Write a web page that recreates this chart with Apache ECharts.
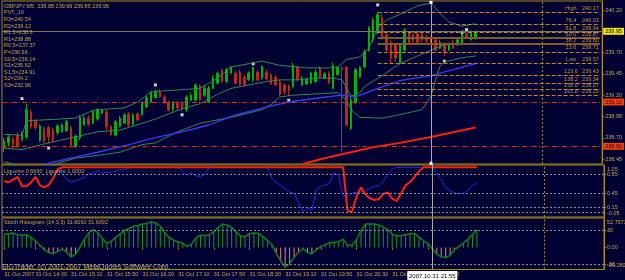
<!DOCTYPE html>
<html>
<head>
<meta charset="utf-8">
<style>
html,body{margin:0;padding:0;background:#000032;}
#chart{width:625px;height:280px;}
</style>
<script src="https://cdn.jsdelivr.net/npm/echarts@6/dist/echarts.min.js"></script>
</head>
<body>
<div id="chart"></div>
<script>
// GBPJPY M5, 31 Oct 2007, first bar 13:55
var opens = [238.58,238.64,238.69,238.73,238.67,238.71,239.00,238.90,238.67,238.80,
  238.82,238.79,238.76,238.77,238.78,238.82,238.60,238.70,238.85,238.93,
  238.87,238.92,238.99,239.00,238.83,238.73,238.83,238.87,238.98,238.86,
  238.98,238.97,239.06,239.12,239.17,239.24,239.18,239.12,239.03,239.11,
  239.11,239.03,239.14,239.14,239.31,239.20,239.12,239.28,239.34,239.50,
  239.36,239.46,239.46,239.47,239.41,239.38,239.38,239.47,239.40,239.47,
  239.44,239.41,239.36,239.32,239.31,239.30,239.53,239.32,239.33,239.34,
  239.36,239.52,239.40,239.46,239.28,239.44,239.52,239.53,238.81,239.11,
  239.41,239.53,239.73,239.85,239.93,240.11,239.91,239.82,239.79,239.58,
  239.73,239.93,239.91,239.92,239.92,239.88,239.87,239.85,239.75,239.80,
  239.73,239.82,239.79,239.81,239.92,239.85,239.88];
var closes = [238.66,238.71,238.62,238.60,238.76,239.03,238.83,238.82,238.84,238.66,
  238.71,238.67,238.84,238.85,238.89,238.60,238.72,238.94,238.93,238.86,
  239.00,239.03,239.03,238.83,238.74,238.89,238.93,238.97,238.85,238.97,
  238.91,239.11,239.17,239.23,239.24,239.18,239.11,239.03,239.11,239.05,
  239.05,239.18,239.20,239.32,239.14,239.28,239.28,239.40,239.46,239.36,
  239.50,239.53,239.34,239.32,239.32,239.46,239.52,239.38,239.54,239.39,
  239.33,239.32,239.21,239.24,239.25,239.55,239.38,239.40,239.39,239.46,
  239.47,239.41,239.45,239.34,239.55,239.53,239.50,238.85,239.14,239.50,
  239.53,239.71,239.99,240.08,240.15,239.87,239.73,239.64,239.64,239.79,
  239.96,239.82,239.84,239.82,239.85,239.84,239.82,239.73,239.82,239.71,
  239.80,239.75,239.85,239.92,239.87,239.94,239.95];
var lows = [238.53,238.60,238.58,238.58,238.66,238.69,238.80,238.79,238.65,238.64,
  238.63,238.64,238.73,238.76,238.77,238.58,238.58,238.67,238.84,238.84,
  238.86,238.90,238.98,238.79,238.72,238.72,238.82,238.86,238.83,238.84,
  238.89,238.96,239.05,239.11,239.16,239.17,239.10,239.01,239.01,239.03,
  239.01,239.00,239.13,239.13,239.13,239.18,239.11,239.27,239.33,239.34,
  239.34,239.45,239.33,239.31,239.31,239.37,239.36,239.36,239.38,239.38,
  239.32,239.31,239.19,239.21,239.19,239.28,239.36,239.31,239.32,239.33,
  239.34,239.40,239.39,239.33,239.27,239.43,238.53,238.83,238.79,239.09,
  239.40,239.52,239.71,239.82,239.91,239.85,239.71,239.57,239.59,239.57,
  239.71,239.80,239.81,239.80,239.82,239.81,239.80,239.71,239.74,239.66,
  239.72,239.74,239.78,239.80,239.86,239.84,239.85];
var highs = [238.70,238.73,238.71,238.77,238.78,239.10,239.03,238.92,238.86,238.83,
  238.84,238.82,238.86,238.87,238.91,238.84,238.74,238.97,238.96,238.96,
  239.03,239.05,239.04,239.03,238.85,238.91,238.96,238.99,239.00,238.99,
  239.00,239.13,239.19,239.25,239.27,239.27,239.20,239.14,239.13,239.14,
  239.13,239.20,239.23,239.34,239.33,239.31,239.31,239.43,239.48,239.51,
  239.52,239.54,239.48,239.50,239.44,239.48,239.54,239.50,239.55,239.50,
  239.46,239.44,239.38,239.34,239.33,239.58,239.55,239.43,239.41,239.48,
  239.50,239.54,239.47,239.48,239.58,239.54,239.54,239.54,239.18,239.52,
  239.54,239.73,240.01,240.11,240.17,240.16,239.93,239.85,239.81,239.81,
  239.99,239.95,239.93,239.94,239.94,239.91,239.89,239.87,239.85,239.82,
  239.82,239.85,239.86,239.94,239.93,239.96,239.96];

// bollinger bands and moving averages, [bar index, price]
var bbUpper = [[0,238.74],[4,238.73],[5,238.90],[9,238.91],[16,238.93],[19,239.00],[21,239.03],[27,239.05],[30,239.12],[33,239.24],[36,239.25],[44,239.28],[48,239.40],[51,239.53],[56,239.58],[58,239.60],[62,239.55],[68,239.52],[73,239.52],[75,239.53],[77,239.62],[80,239.65],[82,239.75],[83,239.87],[84,239.99],[86,240.08],[89,240.15],[93,240.25],[96,240.28],[98,240.16],[100,240.06],[103,240.01],[106,240.04]];
var bbMiddle = [[0,238.58],[4,238.56],[7,238.60],[10,238.64],[16,238.71],[21,238.77],[26,238.79],[31,238.87],[34,238.92],[37,238.98],[40,239.04],[44,239.10],[48,239.21],[51,239.28],[55,239.32],[59,239.36],[62,239.38],[66,239.38],[70,239.40],[74,239.40],[76,239.38],[78,239.19],[80,239.23],[81,239.30],[85,239.43],[89,239.57],[96,239.73],[99,239.79],[106,239.81]];
var bbLower = [[0,238.42],[5,238.35],[10,238.37],[16,238.46],[22,238.50],[26,238.53],[31,238.62],[34,238.64],[39,238.77],[44,238.87],[51,238.94],[58,239.03],[60,239.09],[62,239.18],[65,239.20],[75,239.23],[77,239.14],[78,239.03],[80,238.94],[85,238.93],[88,238.96],[94,239.03],[95,239.11],[96,239.19],[97,239.38],[98,239.54],[99,239.59],[103,239.64],[106,239.66]];
var maBlue = [[9,238.39],[15,238.46],[21,238.53],[29,238.63],[33,238.69],[40,238.77],[46,238.85],[52,238.97],[59,239.06],[64,239.12],[71,239.17],[76,239.20],[79,239.18],[84,239.28],[89,239.37],[96,239.43],[106,239.57]];
var maRed = [[67,238.39],[72,238.46],[78,238.53],[83,238.59],[89,238.64],[96,238.71],[106,238.82]];
var fractals = [[4,239.16],[10,238.58],[34,239.32],[40,238.97],[56,239.57],[64,239.14],[84,240.26],[99,239.60],[103,239.94],[104,239.97]];

// fibonacci levels
var fibNames = ['High','76.4','61.8','50.0','38.2','23.6','Low','123.6','138.2','150.0','161.8'];
var fibPrices = [240.17,240.03,239.94,239.87,239.80,239.71,239.57,239.43,239.34,239.27,239.20];
var fibStart = 84;

var bidPrice = 239.95;
var redLevels = [239.12, 238.60];
var priceTicks = [240.20, 239.70, 239.45, 239.20, 238.95, 238.70, 238.45];

// laguerre
var lagBlue = [null,null,null,null,null,null,null,null,null,null,
  null,null,1,0.86,0.74,0.69,0.71,0.75,0.79,0.86,
  0.88,0.93,0.88,0.90,0.89,0.92,0.95,0.94,1,1,
  1,1,1,1,1,1,1,1,1,1,
  0.90,0.84,0.89,0.82,0.80,0.86,1,1,1,1,
  1,1,1,1,1,1,1,1,1,1,
  0.77,0.68,0.62,0.55,0.47,0.46,0.25,0.07,0.14,0.10,
  0.53,0.60,0.63,0.67,0.90,0.80,0.40,0.38,0.46,0.47,
  0.48,0.50,0.55,0.60,0.61,0.70,0.85,0.97,1,1,
  1,1,1,1,1,1,1,0.86,0.74,0.57,
  0.50,0.46,0.44,0.45,0.52,0.62,0.669];
var lagRed = [0.71,0.68,0.74,0.80,0.60,0.60,0.68,0.80,0.62,0.58,
  0.63,0.78,0.96,1,1,1,1,1,1,1,
  1,1,1,1,1,1,1,1,1,1,
  1,1,1,1,1,1,1,1,1,1,
  1,1,1,1,1,1,1,1,1,1,
  1,1,1,1,1,1,1,1,1,1,
  1,1,1,1,1,1,1,1,1,1,
  1,1,1,1,1,1,1,0.08,0.06,0.38,
  0.58,0.42,0.35,0.31,0.33,0.44,0.47,0.34,0.29,0.45,
  0.62,0.69,0.80,0.91,1,1,1,1,1,1,
  1,1,1,1,1,1,1];
var lagMin = -0.05, lagMax = 1.05;
var lagTicks = [0.85, 0.45, 0.15, 0.05];
var lagLevels = [0.85, 0.45, 0.15, 0.05];

// stoch histogram
var stoch = [24,24,26,23,22,23,18,12,4,-4,
  -9,-11,-7,-3,-8,-17,-12,1,15,27,
  32,27,16,7,11,18,24,31,34,38,
  39,42,43,46,44,38,27,18,13,10,
  8,2,6,17,22,21,23,28,36,42,
  40,36,28,21,19,25,26,25,20,13,
  5,-10,-24,-35,-29,-18,-8,-2,-9,-11,
  -4,2,5,9,9,11,15,4,4,14,
  30,42,42,42,40,37,32,24,21,21,
  23,25,25,19,12,7,-2,-12,-17,-18,
  -14,-4,2,8,15,23,31.6];
var stochMin = -39.2803, stochMax = 52.7573;
var stochTicks = [30, 0, -30];
var stochTickText = ['30', '0.00', '-30'];
var stochLevels = [30, -30];

var pivotLines = ['GBPJPY,M5  239.88 239.96 239.85 239.95', 'PVT_10', 'R3=240.54', 'R2=239.12', 'R1.5=238.6',
  'R1=238.88', 'R0.5=237.37', 'P=236.66', 'S0.5=236.14', 'S1=235.62', 'S1.5=234.91', 'S2=234.2', 'S3=232.96'];

var crossIdx = 96;
var sepIdx = 121;
var crossTime = '2007.10.31 21:55';

// 5 minute slots from 13:55
function pad(n) { return n < 10 ? '0' + n : '' + n; }
var times = [];
for (var k = 0; k < 135; k++) {
  var m = 13 * 60 + 55 + k * 5;
  times.push('31 Oct ' + pad(Math.floor(m / 60) % 24) + ':' + pad(m % 60));
}

var GOLD = '#a88c14';
var TXT = '#c8aa50';
var FONT = 'Liberation Sans';
var FS = 5.5;

var candles = opens.map(function (o, i) { return [o, closes[i], lows[i], highs[i]]; });

var vLines = [
  {xAxis: times[crossIdx], lineStyle: {color: '#a8a8a8', type: 'solid', width: 1}},
  {xAxis: times[sepIdx], lineStyle: {color: '#a08830', type: [2, 2], width: 1}}
];

var mainMarks = vLines.slice();
mainMarks.push({yAxis: bidPrice, lineStyle: {color: '#7c785a', type: 'solid', width: 1},
  label: {show: true, position: 'end', distance: 1, formatter: bidPrice.toFixed(2), backgroundColor: '#f0e418',
    color: '#000', padding: [1, 2, 0, 2], fontSize: FS, fontFamily: FONT}});
redLevels.forEach(function (p) {
  mainMarks.push({yAxis: p, lineStyle: {color: '#c83c00', type: [5, 2, 1, 2], width: 1},
    label: {show: true, position: 'end', distance: 1, formatter: p.toFixed(2), backgroundColor: '#f03c10',
      color: '#300000', padding: [1, 2, 0, 2], fontSize: FS, fontFamily: FONT}});
});
fibNames.forEach(function (n, k) {
  var band = (k === 3 || k === 4);
  mainMarks.push([
    {coord: [times[fibStart], fibPrices[k]],
      lineStyle: {color: band ? '#7c5c24' : '#c8861e', width: band ? 2 : 1, type: band ? 'solid' : [4, 2]},
      label: {show: true, position: 'insideEndTop', distance: 1,
        formatter: '{n|' + n + '}{v|' + fibPrices[k].toFixed(2) + '}',
        rich: {n: {width: 22, align: 'center', fontSize: FS, fontFamily: FONT, color: '#c89a40'},
               v: {width: 17, align: 'left', fontSize: FS, fontFamily: FONT, color: '#c89a40'}}}},
    {coord: [times[134], fibPrices[k]]}
  ]);
});

var lagMarks = vLines.slice();
lagLevels.forEach(function (v) {
  lagMarks.push({yAxis: v, lineStyle: {color: '#8c8c8c', type: [2, 2], width: 1}});
});
var stochMarks = vLines.slice();
stochLevels.forEach(function (v) {
  stochMarks.push({yAxis: v, lineStyle: {color: '#8c8c8c', type: [2, 2], width: 1}});
});

function hiddenX(g) {
  return {type: 'category', gridIndex: g, data: times, boundaryGap: true,
    axisLine: {show: false}, axisTick: {show: false}, axisLabel: {show: false}, splitLine: {show: false}};
}
function showLabel(idx) { return idx === 0 || (idx >= 7 && idx <= 106 && (idx - 7) % 8 === 0); }

var option = {
  backgroundColor: '#000032',
  animation: false,
  textStyle: {fontFamily: FONT},
  grid: [
    {left: 2, right: 21, top: 1, height: 163, show: true, borderColor: GOLD, borderWidth: 1},
    {left: 2, right: 21, top: 165, height: 52, show: true, borderColor: GOLD, borderWidth: 1},
    {left: 2, right: 21, top: 218, height: 51.5, show: true, borderColor: GOLD, borderWidth: 1}
  ],
  xAxis: [hiddenX(0), hiddenX(1), {
    type: 'category', gridIndex: 2, data: times, boundaryGap: true,
    axisLine: {show: false},
    axisTick: {show: true, alignWithLabel: true, interval: showLabel, length: 2, lineStyle: {color: GOLD}},
    axisLabel: {show: true, interval: showLabel, showMaxLabel: false, align: 'left', margin: 2,
      color: TXT, fontSize: FS, fontFamily: FONT,
      formatter: function (v, idx) { return idx === 0 ? '31 Oct 2007' : v; }},
    splitLine: {show: false}
  }],
  yAxis: [
    {type: 'value', gridIndex: 0, position: 'right', min: 238.392, max: 240.306,
      splitLine: {show: false}, axisLine: {show: true, lineStyle: {color: GOLD}},
      axisTick: {show: true, customValues: priceTicks, length: 2, lineStyle: {color: GOLD}},
      axisLabel: {customValues: priceTicks, margin: 3, color: TXT, fontSize: FS, fontFamily: FONT,
        formatter: function (v) { return v.toFixed(2); }}},
    {type: 'value', gridIndex: 1, position: 'right', min: lagMin, max: lagMax,
      splitLine: {show: false}, axisLine: {show: true, lineStyle: {color: GOLD}},
      axisTick: {show: true, customValues: lagTicks, length: 2, lineStyle: {color: GOLD}},
      axisLabel: {customValues: lagTicks, margin: 3, color: TXT, fontSize: FS, fontFamily: FONT,
        formatter: function (v) { return v.toFixed(2); }}},
    {type: 'value', gridIndex: 2, position: 'right', min: stochMin, max: stochMax,
      splitLine: {show: false}, axisLine: {show: true, lineStyle: {color: GOLD}},
      axisTick: {show: true, customValues: stochTicks, length: 2, lineStyle: {color: GOLD}},
      axisLabel: {customValues: stochTicks, margin: 3, color: TXT, fontSize: FS, fontFamily: FONT,
        formatter: function (v) {
          var k = stochTicks.indexOf(v);
          return k >= 0 ? stochTickText[k] : String(v);
        }}}
  ],
  series: [
    {type: 'candlestick', xAxisIndex: 0, yAxisIndex: 0, data: candles, barWidth: 2,
      itemStyle: {color: '#00b400', color0: '#c02810', borderColor: '#00b400', borderColor0: '#c02810', borderWidth: 1},
      markLine: {silent: true, symbol: ['none', 'none'], label: {show: false}, data: mainMarks}},
    {type: 'line', xAxisIndex: 0, yAxisIndex: 0, data: bbUpper, showSymbol: false,
      lineStyle: {color: '#2e8b57', width: 1}},
    {type: 'line', xAxisIndex: 0, yAxisIndex: 0, data: bbMiddle, showSymbol: false,
      lineStyle: {color: '#2e8b57', width: 1}},
    {type: 'line', xAxisIndex: 0, yAxisIndex: 0, data: bbLower, showSymbol: false,
      lineStyle: {color: '#2e8b57', width: 1}},
    {type: 'line', xAxisIndex: 0, yAxisIndex: 0, data: maBlue, showSymbol: false,
      lineStyle: {color: '#3a3aff', width: 1.3}},
    {type: 'line', xAxisIndex: 0, yAxisIndex: 0, data: maRed, showSymbol: false,
      lineStyle: {color: '#ff2010', width: 2}},
    {type: 'scatter', xAxisIndex: 0, yAxisIndex: 0, data: fractals, symbol: 'rect', symbolSize: 3,
      itemStyle: {color: '#ffffff'},
      markPoint: {symbol: 'rect', symbolSize: 3, itemStyle: {color: '#ffffff'}, label: {show: false},
        data: [{coord: [times[crossIdx], 240.29]}, {coord: [times[crossIdx], 238.40]}]}},
    {type: 'line', xAxisIndex: 1, yAxisIndex: 1, data: lagBlue, showSymbol: false, connectNulls: false,
      lineStyle: {color: '#2828e8', width: 1},
      markLine: {silent: true, symbol: ['none', 'none'], label: {show: false}, data: lagMarks}},
    {type: 'line', xAxisIndex: 1, yAxisIndex: 1, data: lagRed, showSymbol: false,
      lineStyle: {color: '#ff2010', width: 2}},
    {type: 'bar', xAxisIndex: 2, yAxisIndex: 2, barWidth: 1,
      data: stoch.map(function (v) { return {value: v, itemStyle: {color: v < 0 ? '#e88080' : '#1f961f'}}; }),
      markLine: {silent: true, symbol: ['none', 'none'], label: {show: false}, data: stochMarks}},
    {type: 'line', xAxisIndex: 2, yAxisIndex: 2, data: stoch, showSymbol: false,
      lineStyle: {color: '#12801a', width: 1.5}}
  ]
};

var chart = echarts.init(document.getElementById('chart'));
chart.setOption(option);

var px = chart.convertToPixel({xAxisIndex: 2}, times[crossIdx]);
var axisX = 607;
function edgeLabel(axisIdx, value, text, va) {
  var y = chart.convertToPixel({yAxisIndex: axisIdx}, value);
  return {type: 'text', z: 50, silent: true, x: axisX, y: va === 'top' ? y + 1.5 : y - 1,
    style: {text: text, fill: TXT, font: FS + 'px ' + FONT, textVerticalAlign: va}};
}
chart.setOption({
  graphic: [
    {type: 'text', left: 4, top: 3, z: 50, silent: true,
      style: {text: pivotLines.join('\n'), fill: TXT, font: FS + 'px ' + FONT, lineHeight: 6.6}},
    {type: 'text', left: 4, top: 168, z: 50, silent: true,
      style: {text: 'Liguerre 0.6690  Liguerre 1.0000', fill: TXT, font: FS + 'px ' + FONT}},
    {type: 'text', left: 4, top: 219.5, z: 50, silent: true,
      style: {text: 'Stoch Histogram (14,3,3) 31.6092 31.6092', fill: TXT, font: FS + 'px ' + FONT}},
    {type: 'text', left: 2, top: 263.5, z: 50, silent: true,
      style: {text: 'SIGTrader, (c) 2001-2007 MetaQuotes Software Corp.', fill: '#c8b870', font: '7px ' + FONT}},
    edgeLabel(1, lagMax, lagMax.toFixed(2), 'top'),
    edgeLabel(1, lagMin, lagMin.toFixed(2), 'bottom'),
    edgeLabel(2, stochMax, String(stochMax), 'top'),
    edgeLabel(2, stochMin, String(stochMin), 'bottom'),
    {type: 'rect', z: 60, silent: true, shape: {x: px - 25, y: 271, width: 50, height: 10},
      style: {fill: '#ffffff'}},
    {type: 'text', z: 61, silent: true, x: px, y: 276,
      style: {text: crossTime, fill: '#000', font: '6px ' + FONT, textAlign: 'center', textVerticalAlign: 'middle'}}
  ]
});
</script>
</body>
</html>
